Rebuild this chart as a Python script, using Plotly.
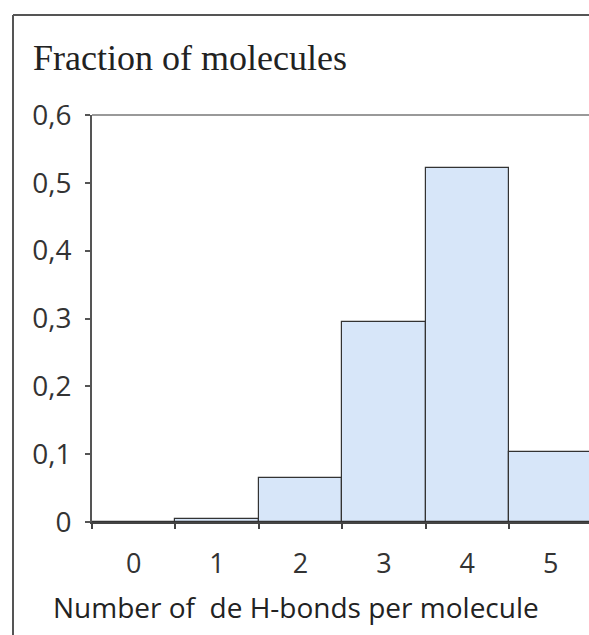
import plotly.graph_objects as go

categories = ["0", "1", "2", "3", "4", "5"]
fractions = [0.0, 0.005, 0.065, 0.295, 0.522, 0.103]
y_tickvals = [0, 0.1, 0.2, 0.3, 0.4, 0.5, 0.6]
y_ticktext = ["0", "0,1", "0,2", "0,3", "0,4", "0,5", "0,6"]

W, H = 589, 635
L, R, T, B = 92, 0, 115, 113

fig = go.Figure()
fig.add_trace(go.Bar(
    x=categories, y=fractions, width=1.0,
    marker=dict(color="#d7e6f9", line=dict(color="#333333", width=1.2)),
))

fig.update_layout(
    width=W, height=H,
    margin=dict(l=L, r=R, t=T, b=B, pad=0),
    paper_bgcolor="white", plot_bgcolor="white",
    showlegend=False, bargap=0,
    font=dict(family="Open Sans", color="#333333"),
)
fig.update_xaxes(
    type="category", range=[-0.5, 5.46], tickson="boundaries",
    ticks="outside", ticklen=5, tickcolor="#444", tickwidth=2,
    showline=True, linecolor="#444444", linewidth=2,
    showgrid=False, zeroline=False,
    tickfont=dict(family="Open Sans", size=27, color="#333333"),
    ticklabelstandoff=17,
)
fig.update_yaxes(
    range=[0, 0.6], tickvals=y_tickvals, ticktext=y_ticktext,
    ticks="outside", ticklen=5, tickcolor="#555", tickwidth=2,
    showline=True, linecolor="#555555", linewidth=2,
    showgrid=False, zeroline=False,
    tickfont=dict(family="Open Sans", size=28, color="#333333"),
    ticklabelstandoff=8,
)

# top border of plot area
fig.add_shape(type="line", xref="paper", yref="paper", x0=0, x1=1, y0=1, y1=1,
              line=dict(color="#999999", width=2))
# outer frame (left and top)
ph = H - T - B
pw = W - L - R
fx = (13 - L) / pw
fy_top = (H - B - 15) / ph
fy_bot = (H - B - H - 5) / ph
fig.add_shape(type="line", xref="paper", yref="paper", x0=fx, x1=fx, y0=fy_bot, y1=fy_top,
              line=dict(color="#555555", width=2))
fig.add_shape(type="line", xref="paper", yref="paper", x0=fx, x1=1.05, y0=fy_top, y1=fy_top,
              line=dict(color="#555555", width=2))

fig.add_annotation(text="Fraction of molecules", xref="paper", yref="paper",
                   x=(31 - L) / pw, y=(H - B - 58) / ph, xanchor="left", yanchor="middle",
                   showarrow=False, font=dict(family="Liberation Serif", size=36, color="#222222"))
fig.add_annotation(text="Number of \u00a0de H-bonds per molecule", xref="paper", yref="paper",
                   x=(296 - L) / pw, y=(H - B - 607) / ph, xanchor="center", yanchor="middle",
                   showarrow=False, font=dict(family="Open Sans", size=28, color="#222222"))

fig.write_html("out.html", config={"displayModeBar": False},
               post_script="document.body.style.margin='0';")
